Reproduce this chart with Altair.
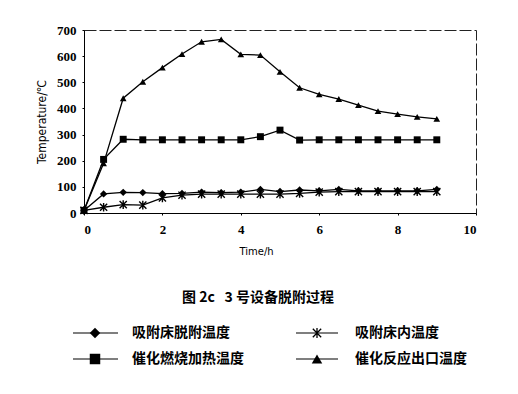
import altair as alt
import pandas as pd

time_h = [0, 0.5, 1, 1.5, 2, 2.5, 3, 3.5, 4, 4.5, 5, 5.5, 6, 6.5, 7, 7.5, 8, 8.5, 9]
desorb_temp = [10, 73, 79, 78, 74, 75, 80, 78, 80, 90, 82, 88, 85, 90, 85, 85, 85, 85, 90]
bed_temp = [10, 22, 32, 30, 58, 68, 72, 72, 72, 72, 72, 75, 80, 82, 82, 82, 82, 82, 82]
heat_temp = [10, 205, 282, 280, 280, 280, 280, 280, 280, 292, 317, 279, 280, 280, 280, 280, 280, 280, 280]
outlet_temp = [10, 190, 439, 502, 556, 608, 655, 664, 607, 604, 540, 479, 454, 436, 413, 390, 378, 368, 360]

series_names = ["吸附床脱附温度", "吸附床内温度", "催化燃烧加热温度", "催化反应出口温度"]
series_values = [desorb_temp, bed_temp, heat_temp, outlet_temp]
caption = "图 2c\u00a0\u00a0\u00a03 号设备脱附过程"
x_title = "Time/h"
y_title = "Temperature/℃"

rows = []
for name, vals in zip(series_names, series_values):
    for t, v in zip(time_h, vals):
        rows.append({"series": name, "time": t, "temp": v})
df = pd.DataFrame(rows)

star_path = "M-1,-1L1,1M-1,1L1,-1M0,-1.2L0,1.2"
shape_scale = alt.Scale(domain=series_names,
                        range=["diamond", star_path, "square", "triangle-up"])
size_scale = alt.Scale(domain=series_names, range=[55, 45, 75, 90])

W, H = 392, 183

x = alt.X("time:Q", scale=alt.Scale(domain=[0, 10]),
          axis=alt.Axis(values=[0, 2, 4, 6, 8, 10], grid=False, title=x_title,
                        labelFont="Liberation Serif", labelFontWeight="bold", labelFontSize=13,
                        labelPadding=8, tickSize=2, titleFont="DejaVu Sans", titleFontSize=10,
                        titleFontWeight="normal", titlePadding=10, titleX=172,
                        domainColor="black", tickColor="black"))
y = alt.Y("temp:Q", scale=alt.Scale(domain=[0, 700]),
          axis=alt.Axis(values=list(range(0, 701, 100)), grid=False, title=y_title,
                        labelFont="Liberation Serif", labelFontWeight="bold", labelFontSize=13,
                        labelPadding=6, tickSize=2, titleFont="DejaVu Sans Condensed", titleFontSize=12,
                        titleFontWeight="normal", titlePadding=8, domainColor="black", tickColor="black"))

base = alt.Chart(df)
lines = base.mark_line(color="black", strokeWidth=1.3).encode(x=x, y=y, detail="series:N")
filled_pts = base.transform_filter(alt.datum.series != series_names[1]).mark_point(
    filled=True, color="black", opacity=1).encode(
    x=x, y=y,
    shape=alt.Shape("series:N", scale=shape_scale, legend=None),
    size=alt.Size("series:N", scale=size_scale, legend=None))
star_pts = base.transform_filter(alt.datum.series == series_names[1]).mark_point(
    filled=False, color="black", strokeWidth=1.4, opacity=1).encode(
    x=x, y=y,
    shape=alt.Shape("series:N", scale=shape_scale, legend=None),
    size=alt.Size("series:N", scale=size_scale, legend=None))

layers = [lines, filled_pts, star_pts]

# caption
cap_df = pd.DataFrame({"t": [caption]})
layers.append(alt.Chart(cap_df).mark_text(font="Noto Sans CJK SC", fontWeight="bold", fontSize=14,
                                          align="center", baseline="middle", color="black").encode(
    text="t:N", x=alt.value(174), y=alt.value(268)))

# custom legend
legend_pos = [(-11, 34, 11, 48, 303), (212, 254, 233, 271, 303),
              (-11, 34, 11, 48, 329), (212, 254, 233, 271, 329)]
for name, (lx1, lx2, mx, tx, ly) in zip(series_names, legend_pos):
    ldf = pd.DataFrame({"series": [name]})
    lc = alt.Chart(ldf)
    layers.append(lc.mark_rule(color="black", strokeWidth=1.1).encode(
        x=alt.value(lx1), x2=alt.value(lx2), y=alt.value(ly)))
    is_star = name == series_names[1]
    layers.append(lc.mark_point(filled=not is_star, color="black", opacity=1,
                                strokeWidth=1.3, size=110 if not is_star else 70).encode(
        x=alt.value(mx), y=alt.value(ly),
        shape=alt.Shape("series:N", scale=shape_scale, legend=None)))
    layers.append(lc.mark_text(font="Noto Sans CJK SC", fontWeight="bold", fontSize=14,
                               align="left", baseline="middle", color="black").encode(
        text="series:N", x=alt.value(tx), y=alt.value(ly)))

chart = alt.layer(*layers).properties(
    width=W, height=H,
    autosize=alt.AutoSizeParams(type="none"),
    padding={"left": 76, "top": 22, "right": 34, "bottom": 170},
    background="white",
).configure_view(stroke="#222222", strokeWidth=1, strokeDash=[12, 3])

chart.save("out.html", embed_options={"renderer": "svg", "actions": False})
